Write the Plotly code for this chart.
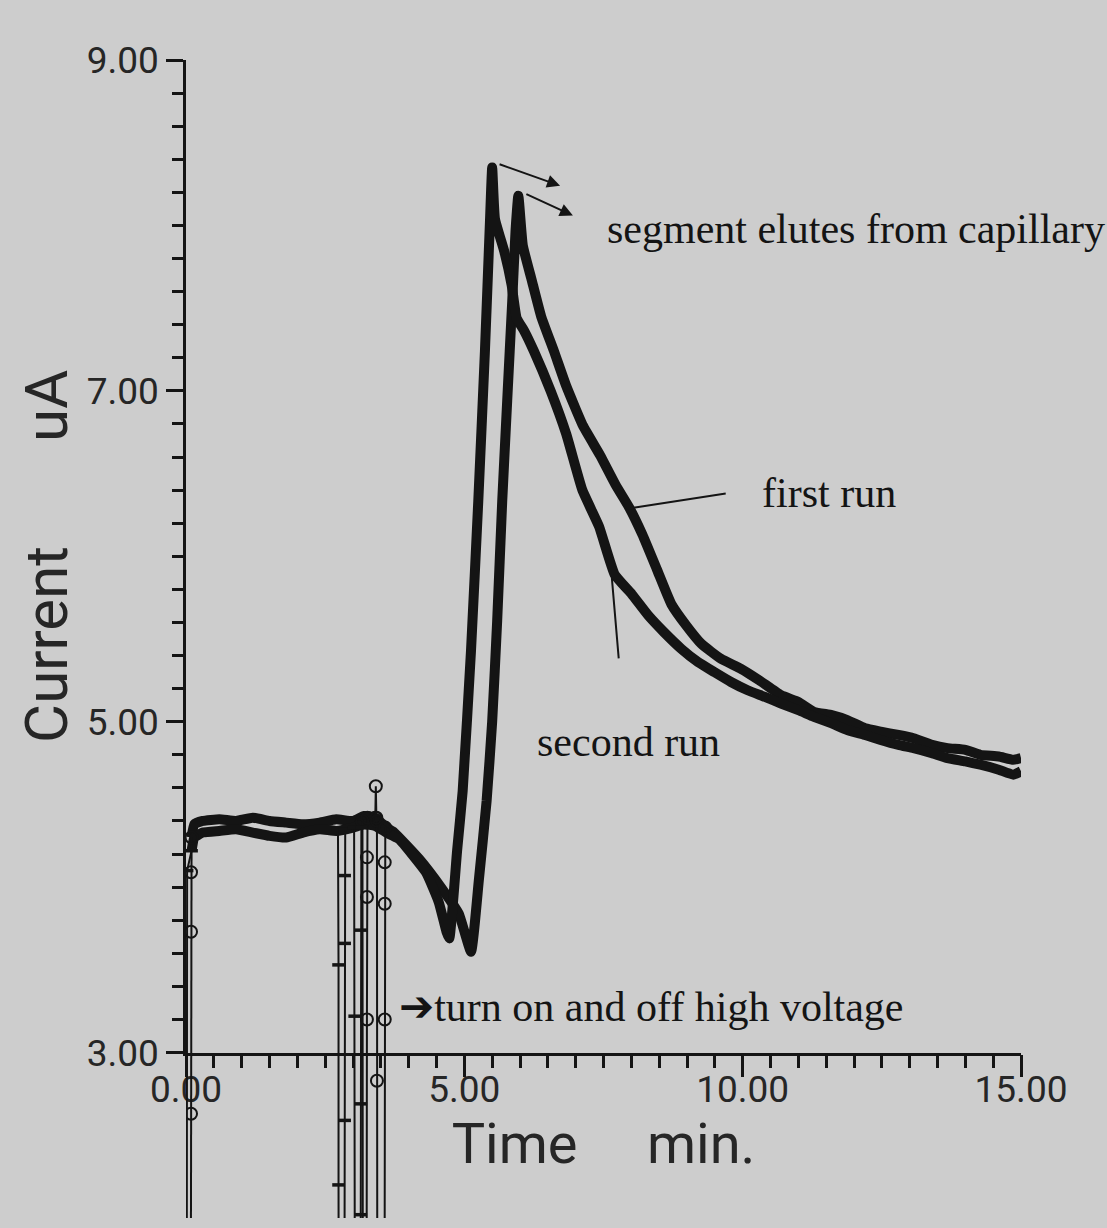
import plotly.graph_objects as go

# ---------------- data ----------------
# first run (later, upper peak) - thick trace
t_first = [0.10, 0.15, 0.30, 0.60, 0.90, 1.20, 1.50, 1.80, 2.10, 2.40, 2.70, 3.00,
           3.20, 3.40, 3.60, 3.74, 4.19, 4.60, 4.90, 5.12, 5.26, 5.40, 5.50, 5.59,
           5.68, 5.77, 5.86, 5.92, 5.97, 6.05, 6.21, 6.38, 6.61, 6.83, 7.13, 7.44,
           7.72, 7.97, 8.20, 8.46, 8.72, 8.99, 9.26, 9.61, 9.97, 10.30, 10.69, 11.00,
           11.28, 11.60, 11.88, 12.20, 12.48, 12.80, 13.07, 13.40, 13.68, 14.00, 14.27,
           14.60, 14.86, 15.00]
i_first = [4.30, 4.38, 4.40, 4.41, 4.40, 4.42, 4.40, 4.39, 4.38, 4.39, 4.41, 4.40,
           4.43, 4.42, 4.36, 4.33, 4.17, 3.99, 3.84, 3.61, 4.04, 4.52, 5.00, 5.61,
           6.33, 6.94, 7.54, 7.97, 8.18, 7.88, 7.67, 7.45, 7.24, 7.03, 6.79, 6.61,
           6.43, 6.29, 6.13, 5.92, 5.71, 5.58, 5.47, 5.38, 5.32, 5.25, 5.16, 5.12,
           5.06, 5.04, 5.01, 4.96, 4.94, 4.92, 4.90, 4.86, 4.84, 4.83, 4.80,
           4.79, 4.77, 4.78]

# second run (earlier, lower-tailing peak) - thick trace
t_second = [0.10, 0.15, 0.30, 0.60, 0.90, 1.20, 1.50, 1.80, 2.10, 2.40, 2.70, 3.00,
            3.20, 3.40, 3.60, 3.72, 3.83, 4.31, 4.54, 4.68, 4.73, 4.87, 4.97, 5.12,
            5.25, 5.37, 5.46, 5.50, 5.55, 5.72, 5.85, 5.94, 6.08, 6.25, 6.55, 6.83,
            7.12, 7.42, 7.70, 8.01, 8.31, 8.59, 8.90, 9.20, 9.49, 9.79, 10.09, 10.40,
            10.69, 11.00, 11.28, 11.60, 11.88, 12.20, 12.48, 12.80, 13.07, 13.40, 13.68,
            14.00, 14.27, 14.60, 14.86, 15.00]
i_second = [4.22, 4.30, 4.33, 4.34, 4.35, 4.33, 4.31, 4.30, 4.33, 4.35, 4.34, 4.36,
            4.38, 4.37, 4.33, 4.31, 4.29, 4.09, 3.91, 3.73, 3.69, 4.22, 4.58, 5.43,
            6.33, 7.24, 8.02, 8.35, 8.04, 7.84, 7.64, 7.44, 7.36, 7.24, 7.00, 6.74,
            6.40, 6.18, 5.89, 5.77, 5.64, 5.54, 5.44, 5.36, 5.30, 5.24, 5.19, 5.15,
            5.11, 5.07, 5.03, 4.99, 4.95, 4.92, 4.89, 4.86, 4.84, 4.81, 4.78,
            4.76, 4.74, 4.71, 4.68, 4.70]

# readings while the high voltage is switched (sampled points, current 0 when off)
t_switch_first = [0.08, 0.09, 0.09, 0.09, 0.10, None,
                  3.16, 3.17, 3.18, 3.24, 3.25, 3.25, 3.25, 3.26, None,
                  3.40, 3.41, 3.42, None,
                  3.43, 3.43, 3.44, 3.56, 3.57, 3.57, 3.57, 3.58]
i_switch_first = [0.0, 2.63, 3.73, 4.09, 4.30, None,
                  4.40, 4.40, 0.0, 0.0, 3.20, 3.94, 4.18, 4.42, None,
                  4.42, 4.61, 4.42, None,
                  4.40, 2.83, 0.0, 0.0, 3.20, 3.90, 4.15, 4.36]

t_switch_second = [0.01, 0.02, 0.10, None,
                   2.73, 2.74, 2.74, 2.75, 2.84, 2.85, 2.85, 2.85, 2.86, None,
                   3.02, 3.03, 3.04, 3.13, 3.14, 3.14, 3.14, 3.15]
i_switch_second = [0.0, 4.10, 4.22, None,
                   4.35, 3.53, 2.20, 0.0, 0.0, 2.59, 3.66, 4.07, 4.35, None,
                   4.36, 3.22, 0.0, 0.0, 2.02, 2.69, 3.74, 4.36]

x_range = [0, 15]
y_range = [3, 9]
y_plot_floor = 2.0

# ---------------- figure ----------------
INK = "#141414"
BG = "#cdcdcd"
SANS = "Roboto, Liberation Sans, sans-serif"
SERIF = "Liberation Serif, Times New Roman, serif"
TXT = "#262626"

fig = go.Figure()
# empty trace so that the visible x/y axis pair is built as a subplot
fig.add_trace(go.Scatter(x=[None], y=[None], mode="lines", xaxis="x", yaxis="y",
                         hoverinfo="skip", showlegend=False))
for tt, ii in ((t_first, i_first), (t_second, i_second)):
    fig.add_trace(go.Scatter(x=tt, y=ii, mode="lines", xaxis="x", yaxis="y2",
                             line=dict(color=INK, width=10, shape="spline", smoothing=0.4),
                             hoverinfo="skip", showlegend=False))
fig.add_trace(go.Scatter(x=t_switch_first, y=i_switch_first, mode="lines+markers",
                         xaxis="x", yaxis="y2", connectgaps=False,
                         line=dict(color=INK, width=2),
                         marker=dict(symbol="circle-open", size=12, color=INK,
                                     line=dict(width=2, color=INK)),
                         hoverinfo="skip", showlegend=False))
fig.add_trace(go.Scatter(x=t_switch_second, y=i_switch_second, mode="lines+markers",
                         xaxis="x", yaxis="y2", connectgaps=False,
                         line=dict(color=INK, width=2),
                         marker=dict(symbol="line-ew-open", size=9, color=INK,
                                     line=dict(width=3.5, color=INK)),
                         hoverinfo="skip", showlegend=False))

frac3 = (y_range[0] - y_plot_floor) / (y_range[1] - y_plot_floor)

axis_common = dict(showline=True, linecolor=INK, linewidth=2.5, ticks="outside",
                   tickcolor=INK, tickwidth=2.5, showgrid=False, zeroline=False,
                   automargin=False,
                   tickformat=".2f", tickfont=dict(family=SANS, size=37, color=TXT))

fig.update_layout(
    width=1107, height=1228,
    margin=dict(l=186, r=86, t=60, b=10),
    paper_bgcolor=BG, plot_bgcolor="rgba(0,0,0,0)",
    font=dict(family=SANS, color=TXT),
    xaxis=dict(range=x_range, domain=[0, 1], anchor="y", tick0=0, dtick=5, ticklen=22,
               ticklabelstandoff=-20,
               minor=dict(tick0=0, dtick=0.5, ticks="outside", ticklen=13,
                          tickwidth=2.5, tickcolor=INK, showgrid=False),
               title=dict(text="Time\u00a0\u00a0\u00a0\u00a0\u00a0min.",
                          font=dict(family=SANS, size=56, color=TXT), standoff=0),
               **axis_common),
    yaxis=dict(range=y_range, domain=[frac3, 1], anchor="x", tick0=3, dtick=2, ticklen=17,
               minor=dict(tick0=3, dtick=0.2, ticks="outside", ticklen=11,
                          tickwidth=2.5, tickcolor=INK, showgrid=False),
               title=dict(text="Current\u00a0\u00a0\u00a0\u00a0\u00a0\u00a0\u00a0uA",
                          font=dict(family=SANS, size=60, color=TXT), standoff=0),
               **axis_common),
    yaxis2=dict(range=[y_plot_floor, y_range[1]], domain=[0, 1], anchor="x",
                visible=False, automargin=False),
)

ann_font = dict(family=SERIF, size=42, color=INK)
fig.add_annotation(x=7.53, y=7.98, xref="x", yref="y2", text="segment elutes from capillary",
                   showarrow=False, xanchor="left", yanchor="middle", font=ann_font)
fig.add_annotation(x=10.31, y=6.38, xref="x", yref="y2", text="first run",
                   showarrow=False, xanchor="left", yanchor="middle", font=ann_font)
fig.add_annotation(x=6.27, y=4.88, xref="x", yref="y2", text="second run",
                   showarrow=False, xanchor="left", yanchor="middle", font=ann_font)
fig.add_annotation(x=3.79, y=3.28, xref="x", yref="y2",
                   text="<span style='font-family:DejaVu Sans'>\u2794</span>turn on and off high voltage",
                   showarrow=False, xanchor="left", yanchor="middle", font=ann_font)

# pointer lines and arrows
fig.add_annotation(x=7.98, y=6.29, xref="x", yref="y2", text="", showarrow=True,
                   arrowhead=0, arrowwidth=2, arrowcolor=INK, ax=97, ay=-15)
fig.add_annotation(x=7.65, y=5.87, xref="x", yref="y2", text="", showarrow=True,
                   arrowhead=0, arrowwidth=2, arrowcolor=INK, ax=7, ay=82)
fig.add_annotation(x=6.72, y=8.24, xref="x", yref="y2", text="", showarrow=True,
                   arrowhead=2, arrowsize=1.3, arrowwidth=2, arrowcolor=INK, ax=-62, ay=-22)
fig.add_annotation(x=6.95, y=8.06, xref="x", yref="y2", text="", showarrow=True,
                   arrowhead=2, arrowsize=1.3, arrowwidth=2, arrowcolor=INK, ax=-48, ay=-22)

fig.write_html("out.html")
